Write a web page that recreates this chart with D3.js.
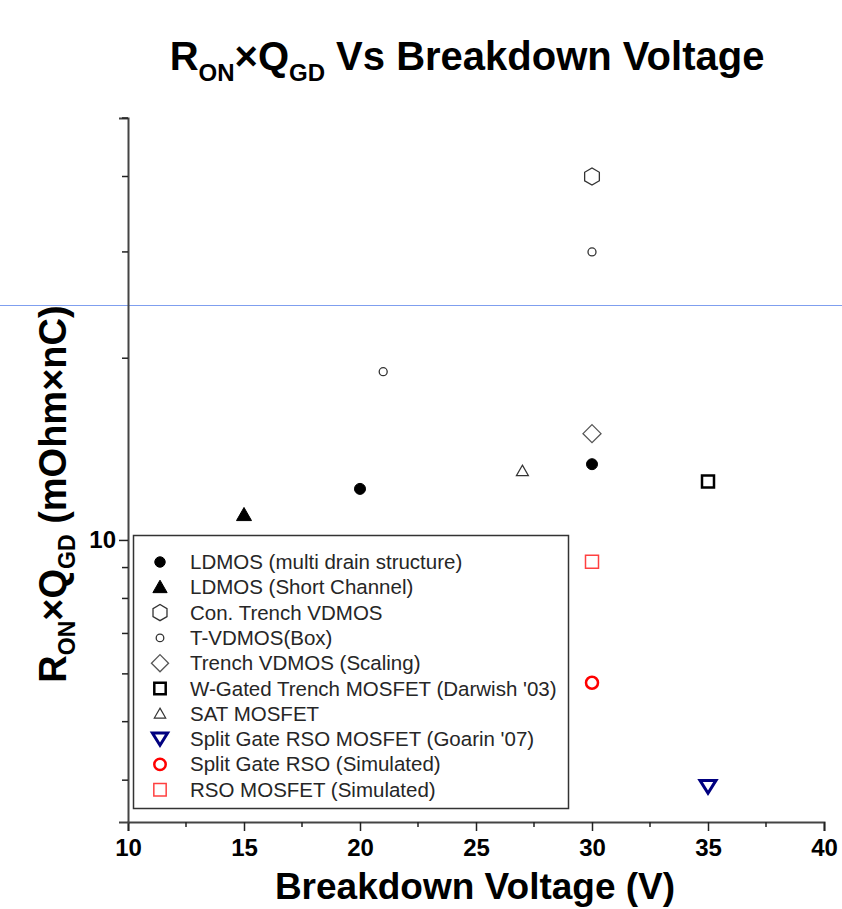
<!DOCTYPE html>
<html><head><meta charset="utf-8">
<script src="https://cdn.jsdelivr.net/npm/d3@7"></script>
<style>body{margin:0;background:#fff}svg{display:block}text{font-family:Arial,"Liberation Sans",sans-serif}</style>
</head><body>
<script>
// ---- data ----
const seriesNames = [
  "LDMOS (multi drain structure)",
  "LDMOS (Short Channel)",
  "Con. Trench VDMOS",
  "T-VDMOS(Box)",
  "Trench VDMOS (Scaling)",
  "W-Gated Trench MOSFET (Darwish '03)",
  "SAT MOSFET",
  "Split Gate RSO MOSFET (Goarin '07)",
  "Split Gate RSO (Simulated)",
  "RSO MOSFET (Simulated)"
];
const breakdownV = [[20, 30], [15], [30], [30, 21], [30], [35], [27], [35], [30], [30]];
const ronQgd = [[12.15, 13.35], [11.0], [40], [30, 19], [15], [12.5], [13], [3.9], [5.8], [9.2]];
const xTicks = [10, 15, 20, 25, 30, 35, 40];
const xMinorTicks = [12.5, 17.5, 22.5, 27.5, 32.5, 37.5];
const yLabeledTicks = [10];
const yMinorTicks = [4, 5, 6, 7, 8, 9, 20, 30, 40, 50];

// ---- marker styles (per series) ----
const markerStyle = [
  {shape: "dot", size: 11, fill: "#000", stroke: "#000", sw: 1},
  {shape: "triangle", size: 15, fill: "#000", stroke: "#000", sw: 1},
  {shape: "hexagon", size: 17, fill: "none", stroke: "#333", sw: 1.3},
  {shape: "circle", size: 8, fill: "none", stroke: "#333", sw: 1.3},
  {shape: "diamond", size: 18, fill: "none", stroke: "#555", sw: 1.3},
  {shape: "square", size: 12, fill: "none", stroke: "#000", sw: 2.5},
  {shape: "triangle", size: 12, fill: "none", stroke: "#333", sw: 1.2},
  {shape: "triangleDown", size: 16, fill: "none", stroke: "#000080", sw: 3},
  {shape: "circle", size: 12, fill: "none", stroke: "#ff0000", sw: 2.5},
  {shape: "square", size: 13, fill: "none", stroke: "#ff4040", sw: 1.5}
];

function markerPath(shape, s) {
  const h = s / 2;
  switch (shape) {
    case "dot": case "circle":
      return `M${-h},0A${h},${h} 0 1,0 ${h},0A${h},${h} 0 1,0 ${-h},0Z`;
    case "triangle":
      return `M0,${-h}L${h},${h * 0.75}L${-h},${h * 0.75}Z`;
    case "triangleDown":
      return `M0,${h * 0.8}L${h},${-h * 0.8}L${-h},${-h * 0.8}Z`;
    case "square":
      return `M${-h},${-h}H${h}V${h}H${-h}Z`;
    case "diamond":
      return `M0,${-h}L${h},0L0,${h}L${-h},0Z`;
    case "hexagon": {
      const pts = d3.range(6).map(i => {
        const a = Math.PI / 6 + i * Math.PI / 3;
        return [h * Math.cos(a), h * Math.sin(a)];
      });
      return "M" + pts.map(p => p.join(",")).join("L") + "Z";
    }
  }
}

const W = 842, H = 909;
const svg = d3.select("body").append("svg").attr("width", W).attr("height", H);

const x = d3.scaleLinear().domain([10, 40]).range([128, 824]);
const y = d3.scaleLog().domain([3.41, 50]).range([822, 118]);

// stray separator line in the reference
svg.append("line").attr("x1", 0).attr("x2", W).attr("y1", 305.5).attr("y2", 305.5)
  .attr("stroke", "#7f9fef").attr("stroke-width", 1.2);

// title
const title = svg.append("text").attr("x", 467).attr("y", 70).attr("text-anchor", "middle")
  .attr("font-size", 40).attr("font-weight", "bold").attr("fill", "#000");
title.append("tspan").text("R");
title.append("tspan").text("ON").attr("font-size", 24).attr("dy", 11);
title.append("tspan").text("×Q").attr("dy", -11);
title.append("tspan").text("GD").attr("font-size", 24).attr("dy", 11);
title.append("tspan").text(" Vs Breakdown Voltage").attr("dy", -11);

// axes
const xAxis = d3.axisBottom(x).tickValues(xTicks).tickFormat(d3.format("d")).tickSizeOuter(0).tickSize(9).tickPadding(8);
const gx = svg.append("g").attr("transform", `translate(0,${y.range()[0]})`).call(xAxis);
gx.selectAll(".tick text").attr("font-size", 24).attr("font-weight", "bold").attr("fill", "#000").attr("font-family", "Arial, Liberation Sans, sans-serif");
gx.selectAll(".tick line").attr("stroke", "#222").attr("stroke-width", 1.5);
gx.select(".domain").attr("stroke", "#444").attr("stroke-width", 2);
gx.selectAll(".minor").data(xMinorTicks).enter().append("line")
  .attr("x1", d => x(d)).attr("x2", d => x(d)).attr("y1", 0).attr("y2", 5)
  .attr("stroke", "#222").attr("stroke-width", 1.5);

const yAxis = d3.axisLeft(y).tickValues(yLabeledTicks).tickFormat(d3.format("d")).tickSizeOuter(0).tickSize(9).tickPadding(3);
const gy = svg.append("g").attr("transform", `translate(${x.range()[0]},0)`).call(yAxis);
gy.selectAll(".tick text").attr("font-size", 24).attr("font-weight", "bold").attr("fill", "#000").attr("font-family", "Arial, Liberation Sans, sans-serif");
gy.selectAll(".tick line").attr("stroke", "#222").attr("stroke-width", 1.5);
gy.select(".domain").attr("stroke", "#444").attr("stroke-width", 2);
gy.selectAll(".minor").data(yMinorTicks).enter().append("line")
  .attr("y1", d => y(d)).attr("y2", d => y(d)).attr("x1", 0).attr("x2", -6)
  .attr("stroke", "#222").attr("stroke-width", 1.5);

// axis titles
svg.append("text").attr("x", 475).attr("y", 899).attr("text-anchor", "middle")
  .attr("font-size", 37).attr("font-weight", "bold").attr("fill", "#000").text("Breakdown Voltage (V)");

const ylab = svg.append("text").attr("transform", "translate(66,494) rotate(-90)").attr("text-anchor", "middle")
  .attr("font-size", 38).attr("font-weight", "bold").attr("fill", "#000");
ylab.append("tspan").text("R");
ylab.append("tspan").text("ON").attr("font-size", 23).attr("dy", 9);
ylab.append("tspan").text("×Q").attr("dy", -9);
ylab.append("tspan").text("GD").attr("font-size", 23).attr("dy", 9);
ylab.append("tspan").text(" (mOhm×nC)").attr("dy", -9);

// legend
const legend = svg.append("g");
legend.append("rect").attr("x", 133.5).attr("y", 535.5).attr("width", 435).attr("height", 273)
  .attr("fill", "#fff").attr("stroke", "#333").attr("stroke-width", 1.5);
seriesNames.forEach((name, i) => {
  const cy = 562 + i * 25.3;
  const st = markerStyle[i];
  legend.append("path").attr("d", markerPath(st.shape, st.size * 0.95))
    .attr("transform", `translate(160,${cy})`)
    .attr("fill", st.fill).attr("stroke", st.stroke).attr("stroke-width", st.sw);
  legend.append("text").attr("x", 190).attr("y", cy + 7).attr("font-size", 20.5).attr("fill", "#262626").text(name);
});

// points
const pts = svg.append("g");
seriesNames.forEach((name, i) => {
  const st = markerStyle[i];
  breakdownV[i].forEach((bv, j) => {
    pts.append("path").attr("d", markerPath(st.shape, st.size))
      .attr("transform", `translate(${x(bv)},${y(ronQgd[i][j])})`)
      .attr("fill", st.fill).attr("stroke", st.stroke).attr("stroke-width", st.sw);
  });
});
</script>
</body></html>
